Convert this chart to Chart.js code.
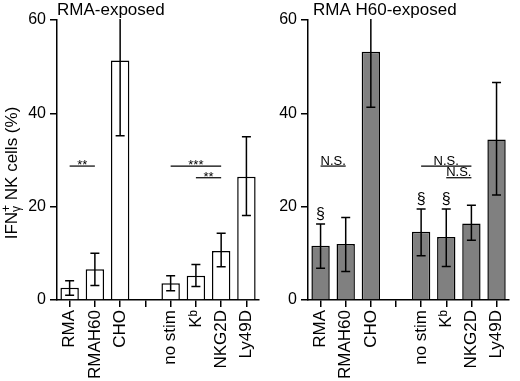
<!DOCTYPE html>
<html>
<head>
<meta charset="utf-8">
<script src="https://cdn.jsdelivr.net/npm/chart.js@4.4.1/dist/chart.umd.min.js"></script>
<style>
  body { margin: 0; background: #fff; }
  #wrap { position: relative; width: 520px; height: 381px; }
  canvas { position: absolute; top: 0; }
  #left { left: 0; }
  #right { left: 270px; }
</style>
</head>
<body>
<div id="wrap">
  <canvas id="left" width="270" height="381"></canvas>
  <canvas id="right" width="250" height="381"></canvas>
</div>
<script>
const categories = ['RMA', 'RMAH60', 'CHO', '', 'no stim', 'Kᵇ', 'NKG2D', 'Ly49D'];
const yTicks = [0, 20, 40, 60];

// RMA-exposed (white bars)
const rmaMean = [2.6, 6.6, 51.3, null, 3.6, 5.2, 10.5, 26.4];
const rmaLow = [1.0, 3.1, 35.2, null, 2.0, 2.9, 7.1, 18.1];
const rmaHigh = [4.1, 10.0, 62, null, 5.2, 7.6, 14.3, 35.0];
const rmaSigFrom = [0, 4, 5];
const rmaSigTo = [1, 6, 6];
const rmaSigAt = [28.7, 28.7, 26.2];
const rmaSigText = ['**', '***', '**'];
const rmaMarks = ['', '', '', '', '', '', '', ''];

// RMA H60-exposed (grey bars)
const h60Mean = [11.6, 12.0, 53.2, null, 14.6, 13.5, 16.4, 34.4];
const h60Low = [6.8, 6.1, 41.3, null, 9.5, 7.2, 12.8, 22.5];
const h60High = [16.3, 17.7, 62, null, 19.5, 19.5, 20.3, 46.6];
const h60SigFrom = [0, 4, 5];
const h60SigTo = [1, 6, 6];
const h60SigAt = [28.7, 28.7, 26.2];
const h60SigText = ['N.S.', 'N.S.', 'N.S.'];
const h60Marks = ['§', '', '', '', '§', '§', '', ''];

const family = '"Liberation Sans", Arial, Helvetica, sans-serif';

function drawExtras(chart, o) {
  const ctx = chart.ctx, x = chart.scales.x, y = chart.scales.y, area = chart.chartArea;
  ctx.save();
  ctx.strokeStyle = '#000';
  ctx.fillStyle = '#000';

  // error bars
  ctx.lineWidth = 1.5;
  o.low.forEach((lo, i) => {
    if (lo == null) return;
    const px = x.getPixelForValue(i);
    const clipped = o.high[i] > y.max;
    const top = clipped ? area.top - 1 : y.getPixelForValue(o.high[i]);
    const bot = y.getPixelForValue(lo);
    ctx.beginPath();
    ctx.moveTo(px, top); ctx.lineTo(px, bot);
    ctx.moveTo(px - 4.5, bot); ctx.lineTo(px + 4.5, bot);
    if (!clipped) { ctx.moveTo(px - 4.5, top); ctx.lineTo(px + 4.5, top); }
    ctx.stroke();
    if (o.marks[i]) {
      ctx.font = '16px ' + family;
      ctx.textAlign = 'center';
      ctx.textBaseline = 'alphabetic';
      ctx.fillText(o.marks[i], px, top - 5);
    }
  });

  // significance lines
  ctx.lineWidth = 1.2;
  o.sigFrom.forEach((f, k) => {
    const x1 = x.getPixelForValue(f), x2 = x.getPixelForValue(o.sigTo[k]);
    const py = y.getPixelForValue(o.sigAt[k]);
    ctx.beginPath(); ctx.moveTo(x1, py); ctx.lineTo(x2, py); ctx.stroke();
    const t = o.sigText[k];
    const star = t.startsWith('*');
    ctx.font = '13px ' + family;
    ctx.textAlign = 'center';
    ctx.textBaseline = 'alphabetic';
    ctx.fillText(t, (x1 + x2) / 2, star ? py + 3 : py - 1.5);
  });

  // panel title
  ctx.font = '17px ' + family;
  ctx.textAlign = 'left';
  ctx.textBaseline = 'alphabetic';
  ctx.fillText(o.title, area.left + o.titleShift, 15);

  // y axis title
  if (o.yTitle) {
    ctx.translate(17, 173);
    ctx.rotate(-Math.PI / 2);
    const big = '17px ' + family, small = '12px ' + family;
    ctx.font = big;
    const w1 = ctx.measureText('IFN').width;
    const w3 = ctx.measureText(' NK cells (%)').width;
    ctx.font = small;
    const w2 = Math.max(ctx.measureText('γ').width, ctx.measureText('+').width);
    let sx = -(w1 + w2 + w3) / 2;
    ctx.textAlign = 'left';
    ctx.font = big;
    ctx.fillText('IFN', sx, 0);
    sx += w1;
    ctx.font = small;
    ctx.fillText('γ', sx, 3);
    ctx.fillText('+', sx, -7);
    sx += w2;
    ctx.font = big;
    ctx.fillText(' NK cells (%)', sx, 0);
  }
  ctx.restore();
}

function panel(id, o) {
  return new Chart(document.getElementById(id), {
    type: 'bar',
    data: {
      labels: categories,
      datasets: [{
        data: o.mean,
        backgroundColor: o.fill,
        borderColor: '#000',
        borderWidth: 1.5,
        barPercentage: 0.73,
        categoryPercentage: 1
      }]
    },
    options: {
      responsive: false,
      animation: false,
      layout: { padding: { top: 20, right: o.padRight, left: 0, bottom: 0 } },
      plugins: { legend: { display: false }, tooltip: { enabled: false } },
      scales: {
        x: {
          grid: { offset: false, drawOnChartArea: false, tickLength: 7, color: '#000', lineWidth: 1.5 },
          border: { color: '#000', width: 1.5 },
          ticks: { color: '#000', font: { size: 17, family }, autoSkip: false, maxRotation: 90, minRotation: 90, padding: 3 },
          afterFit: s => { s.height = 81; }
        },
        y: {
          min: 0,
          max: 60,
          afterBuildTicks: s => { s.ticks = yTicks.map(v => ({ value: v })); },
          grid: { drawOnChartArea: false, tickLength: 7, color: '#000', lineWidth: 1.5 },
          border: { color: '#000', width: 1.5 },
          ticks: { color: '#000', font: { size: 16, family }, padding: 4 },
          afterFit: s => { s.width = o.axisWidth; }
        }
      }
    },
    plugins: [{ id: 'extras', afterDatasetsDraw: chart => drawExtras(chart, o) }]
  });
}

panel('left', {
  mean: rmaMean, low: rmaLow, high: rmaHigh, fill: '#ffffff',
  sigFrom: rmaSigFrom, sigTo: rmaSigTo, sigAt: rmaSigAt, sigText: rmaSigText, marks: rmaMarks,
  title: 'RMA-exposed', titleShift: 0, yTitle: true, axisWidth: 57, padRight: 3
});

panel('right', {
  mean: h60Mean, low: h60Low, high: h60High, fill: '#808080',
  sigFrom: h60SigFrom, sigTo: h60SigTo, sigAt: h60SigAt, sigText: h60SigText, marks: h60Marks,
  title: 'RMA H60-exposed', titleShift: 5, yTitle: false, axisWidth: 38, padRight: 1
});
</script>
</body>
</html>
